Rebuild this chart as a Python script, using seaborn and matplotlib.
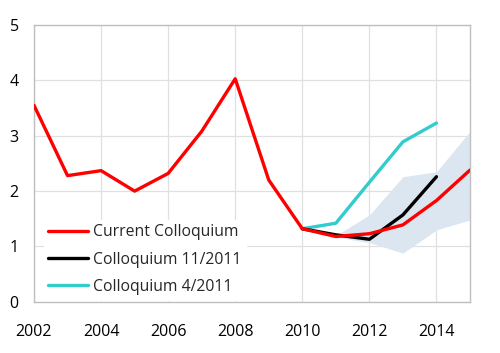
import numpy as np
import pandas as pd
import matplotlib
matplotlib.use('Agg')
import matplotlib.pyplot as plt
import seaborn as sns

years_current = [2002, 2003, 2004, 2005, 2006, 2007, 2008, 2009, 2010, 2011, 2012, 2013, 2014, 2015]
current = [3.55, 2.28, 2.37, 2.0, 2.32, 3.08, 4.03, 2.2, 1.32, 1.18, 1.23, 1.39, 1.83, 2.38]

years_nov = [2010, 2011, 2012, 2013, 2014]
nov2011 = [1.32, 1.21, 1.13, 1.57, 2.26]

years_apr = [2010, 2011, 2012, 2013, 2014]
apr2011 = [1.32, 1.42, 2.16, 2.89, 3.23]

years_band = [2011, 2012, 2013, 2014, 2015]
band_low = [1.17, 1.07, 0.88, 1.30, 1.48]
band_high = [1.20, 1.57, 2.26, 2.35, 3.08]

sns.set_style('whitegrid')
plt.rcParams['font.family'] = ['Open Sans', 'DejaVu Sans']

fig = plt.figure(figsize=(5, 3.53), dpi=100)
ax = fig.add_axes([0.068, 0.145, 0.872, 0.784])

ax.fill_between(years_band, band_low, band_high, color='#dce6f0', lw=0, zorder=1)

df = pd.concat([
    pd.DataFrame({'year': years_current, 'value': current, 'series': 'Current Colloquium'}),
    pd.DataFrame({'year': years_nov, 'value': nov2011, 'series': 'Colloquium 11/2011'}),
    pd.DataFrame({'year': years_apr, 'value': apr2011, 'series': 'Colloquium 4/2011'}),
])
palette = {'Current Colloquium': '#ff0000', 'Colloquium 11/2011': '#000000', 'Colloquium 4/2011': '#33cccc'}
order = ['Colloquium 4/2011', 'Colloquium 11/2011', 'Current Colloquium']
for name in order:
    sns.lineplot(data=df[df['series'] == name], x='year', y='value', color=palette[name],
                 lw=2.4, ax=ax, label=name, zorder=3)

ax.set_xlim(2002, 2015)
ax.set_ylim(0, 5)
ax.set_xticks(range(2002, 2015, 2))
ax.set_yticks(range(0, 6))
ax.set_xlabel('')
ax.set_ylabel('')
ax.grid(True, color='#e0e0e0', lw=0.9)
for s in ax.spines.values():
    s.set_color('#bfbfbf')
    s.set_linewidth(1)
ax.tick_params(axis='both', labelsize=11.5, length=0, colors='black')
ax.tick_params(axis='x', pad=16)
ax.tick_params(axis='y', pad=11)

handles, labels = ax.get_legend_handles_labels()
lookup = dict(zip(labels, handles))
leg_order = ['Current Colloquium', 'Colloquium 11/2011', 'Colloquium 4/2011']
leg = ax.legend([lookup[n] for n in leg_order], leg_order, loc='lower left',
                bbox_to_anchor=(0.022, 0.008), frameon=True, fontsize=11.3,
                handlelength=2.5, handletextpad=0.35, borderaxespad=0, borderpad=0.3,
                labelspacing=0.72, fancybox=False)
leg.get_frame().set_facecolor('white')
leg.get_frame().set_edgecolor('white')
leg.get_frame().set_alpha(1)

fig.savefig('out.png', dpi=100)
